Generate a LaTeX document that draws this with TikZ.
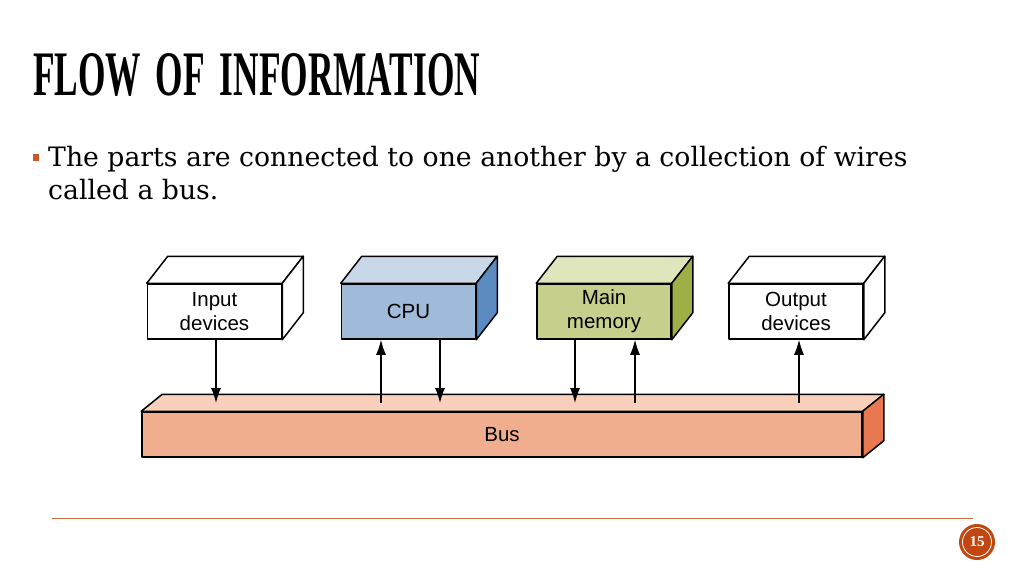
\documentclass[tikz,border=0pt]{standalone}
\usepackage{fontspec}
\setmainfont{DejaVu Serif}
\setsansfont{Liberation Sans}
\newfontfamily\titlefont{Liberation Serif}
\usetikzlibrary{arrows.meta}

\definecolor{cpufront}{HTML}{A0BAD9}
\definecolor{cputop}{HTML}{C9D8E8}
\definecolor{cpuside}{HTML}{5B8BC0}
\definecolor{memfront}{HTML}{C6CF8C}
\definecolor{memtop}{HTML}{E0E6BC}
\definecolor{memside}{HTML}{9DAF45}
\definecolor{busfront}{HTML}{F0AE8F}
\definecolor{bustop}{HTML}{F8D0BC}
\definecolor{busside}{HTML}{E8784F}
\definecolor{accent}{HTML}{C1460F}

\begin{document}
\begin{tikzpicture}[x=1pt, y=-1pt, line join=round,
    unit/.style = {draw, line width=1.5pt, minimum width=134pt, minimum height=55pt,
                   align=center, font=\sffamily\fontsize{20.5}{24}\selectfont},
    face/.style = {draw, line width=1.5pt},
    body/.style = {anchor=base west, inner sep=0pt, font=\fontsize{26.7}{33}\selectfont},
    flow/.style = {line width=1.3pt, -{Latex[length=15pt, width=10pt]}}]
        \useasboundingbox (0,0) rectangle (1024,576);

        % heading and text
        \node[anchor=south west, inner sep=0pt] (title) at (33,97)
            {\resizebox{447pt}{42pt}{\titlefont\bfseries FLOW\, OF\, INFORMATION}};
        \fill[accent!90] (33,154) rectangle (39,161);
        \node[body] (line1) at (48,166) {The parts are connected to one another by a collection of wires};
        \node[body] (line2) at (48,199) {called a bus.};

        % the four units
        \node[unit, fill=white] (input) at (214.5,311.5) {Input\\devices};
        \node[unit, fill=cpufront] (cpu) at (408.5,311.5) {CPU};
        \node[unit, fill=memfront] (mem) at (604,311.5) {Main\\memory};
        \node[unit, fill=white] (output) at (796,311.5) {Output\\devices};

        \draw[face, fill=white] (input.north west) -- ++(21,-27) -- ([shift={(21,-27)}]input.north east) -- (input.north east) -- cycle;
        \draw[face, fill=white] (input.north east) -- ++(21,-27) -- ([shift={(21,-27)}]input.south east) -- (input.south east) -- cycle;
        \draw[face, fill=cputop] (cpu.north west) -- ++(21,-27) -- ([shift={(21,-27)}]cpu.north east) -- (cpu.north east) -- cycle;
        \draw[face, fill=cpuside] (cpu.north east) -- ++(21,-27) -- ([shift={(21,-27)}]cpu.south east) -- (cpu.south east) -- cycle;
        \draw[face, fill=memtop] (mem.north west) -- ++(21,-27) -- ([shift={(21,-27)}]mem.north east) -- (mem.north east) -- cycle;
        \draw[face, fill=memside] (mem.north east) -- ++(21,-27) -- ([shift={(21,-27)}]mem.south east) -- (mem.south east) -- cycle;
        \draw[face, fill=white] (output.north west) -- ++(21,-27) -- ([shift={(21,-27)}]output.north east) -- (output.north east) -- cycle;
        \draw[face, fill=white] (output.north east) -- ++(21,-27) -- ([shift={(21,-27)}]output.south east) -- (output.south east) -- cycle;

        % the bus
        \node[unit, fill=busfront, minimum width=720pt, minimum height=45pt] (bus) at (502,434.5) {Bus};
        \draw[face, fill=bustop] (bus.north west) -- ++(21,-17) -- ([shift={(21,-17)}]bus.north east) -- (bus.north east) -- cycle;
        \draw[face, fill=busside] (bus.north east) -- ++(21,-17) -- ([shift={(21,-17)}]bus.south east) -- (bus.south east) -- cycle;
        \coordinate (bustop) at (0,403);

        % wires
        \draw[flow] ([xshift=1.5pt]input.south) -- ([xshift=1.5pt]input.south |- bustop);
        \draw[flow] ([xshift=-27.5pt]cpu.south |- bustop) -- ([xshift=-27.5pt]cpu.south);
        \draw[flow] ([xshift=31.5pt]cpu.south) -- ([xshift=31.5pt]cpu.south |- bustop);
        \draw[flow] ([xshift=-29pt]mem.south) -- ([xshift=-29pt]mem.south |- bustop);
        \draw[flow] ([xshift=31pt]mem.south |- bustop) -- ([xshift=31pt]mem.south);
        \draw[flow] ([xshift=3pt]output.south |- bustop) -- ([xshift=3pt]output.south);

        % footer
        \draw[accent!80, line width=0.8pt] (52,518) -- (973,518);
        \node[circle, fill=accent, minimum size=36pt, inner sep=0pt] (page) at (977,542) {};
        \draw[white, line width=0.8pt] (page) circle (14.5);
        \node[text=white, font=\titlefont\bfseries\fontsize{15}{15}\selectfont] at (page) {15};
    \end{tikzpicture}
\end{document}
